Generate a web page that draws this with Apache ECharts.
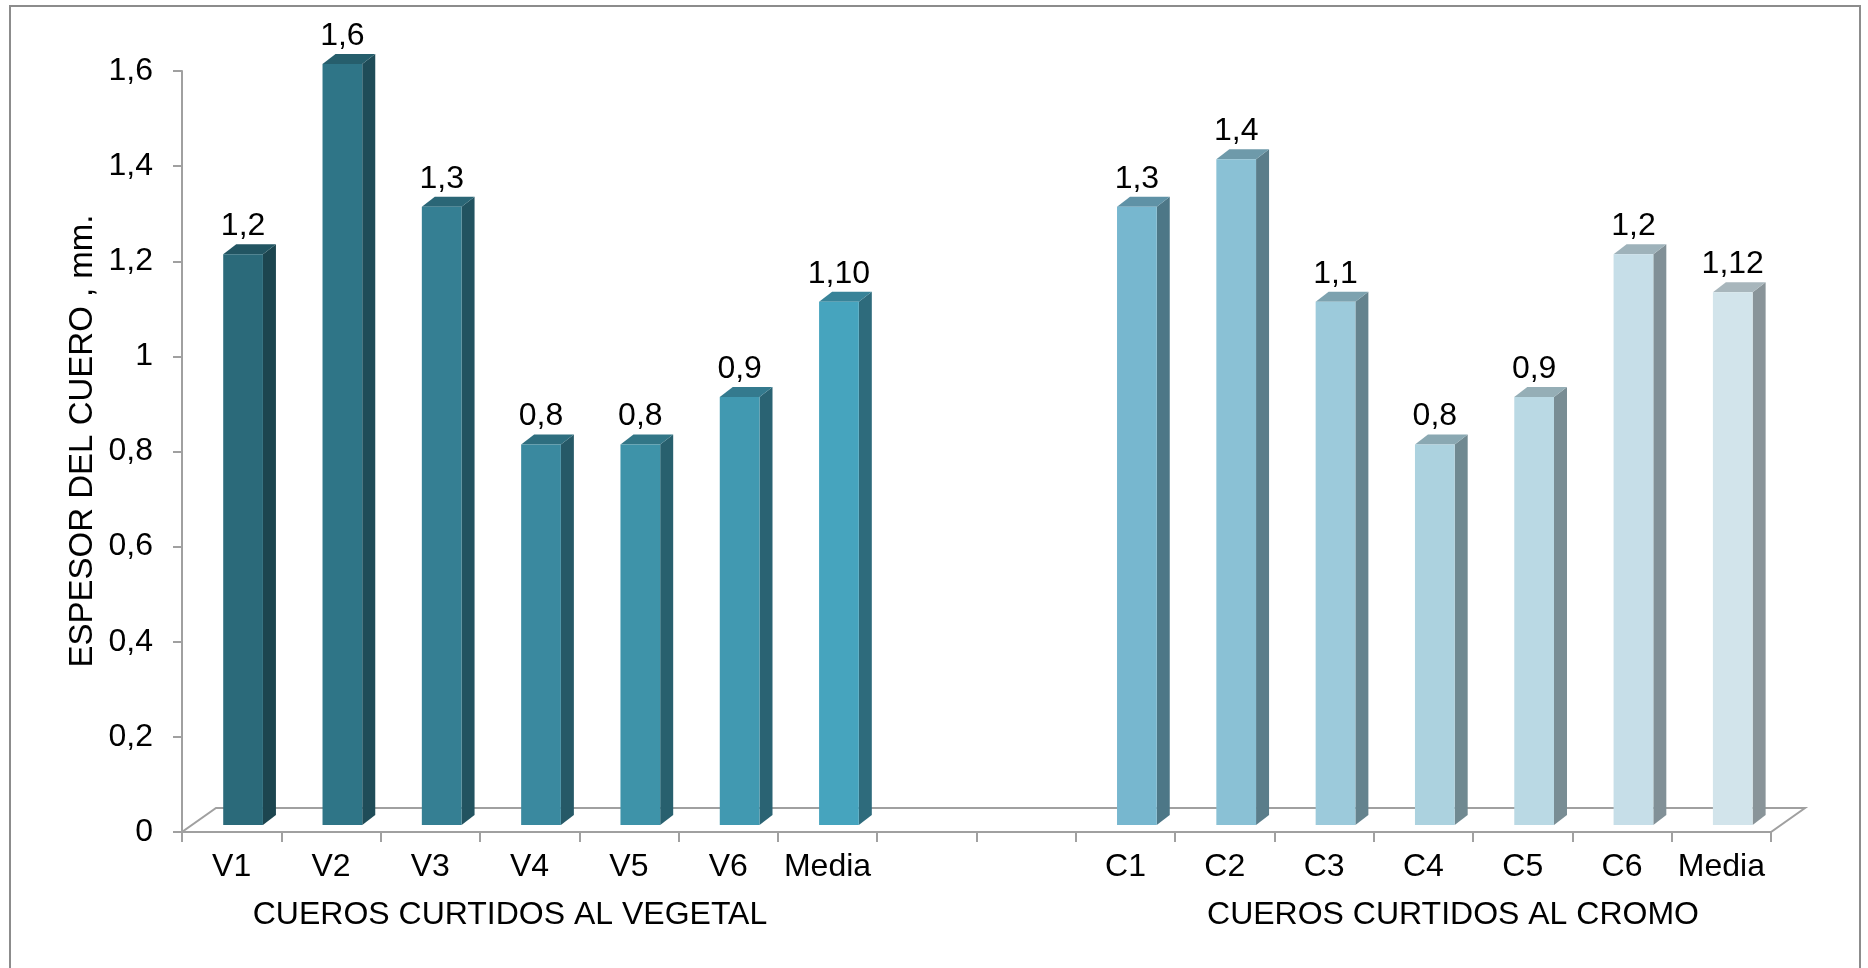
<!DOCTYPE html>
<html>
<head>
<meta charset="utf-8">
<title>Espesor del cuero</title>
<script src="https://cdn.jsdelivr.net/npm/echarts@6/dist/echarts.min.js"></script>
<style>
  html, body { margin: 0; padding: 0; background: #fff; }
  #chart { width: 1868px; height: 968px; }
</style>
</head>
<body>
<div id="chart"></div>
<script>
// Categories on the x axis (two empty slots separate the groups)
const categories = ['V1', 'V2', 'V3', 'V4', 'V5', 'V6', 'Media', '', '', 'C1', 'C2', 'C3', 'C4', 'C5', 'C6', 'Media'];
const vegetalIndex = [0, 1, 2, 3, 4, 5, 6];
const cromoIndex = [9, 10, 11, 12, 13, 14, 15];

// Espesor del cuero, mm.
const vegetalValues = [1.2, 1.6, 1.3, 0.8, 0.8, 0.9, 1.10];
const cromoValues = [1.3, 1.4, 1.1, 0.8, 0.9, 1.2, 1.12];
const vegetalLabels = ['1,2', '1,6', '1,3', '0,8', '0,8', '0,9', '1,10'];
const cromoLabels = ['1,3', '1,4', '1,1', '0,8', '0,9', '1,2', '1,12'];
const groupNames = ['CUEROS CURTIDOS AL VEGETAL', 'CUEROS CURTIDOS AL CROMO'];
const yTitle = 'ESPESOR DEL CUERO , mm.';

// Front face colours
const vegetalColors = ['#2b6a7a', '#2f7587', '#357f93', '#3a899f', '#3e93a9', '#4199b1', '#46a4be'];
const cromoColors = ['#77b7cf', '#8ac1d5', '#9ccadb', '#acd2df', '#bad9e4', '#c6dee8', '#d2e4eb'];

const FONT = '"Liberation Sans", Arial, sans-serif';
const FS = 32;

function shade(hex, f) {
  const n = parseInt(hex.slice(1), 16);
  const r = Math.round(((n >> 16) & 255) * f);
  const g = Math.round(((n >> 8) & 255) * f);
  const b = Math.round((n & 255) * f);
  return 'rgb(' + r + ',' + g + ',' + b + ')';
}

const barData = [];
vegetalIndex.forEach((idx, i) => barData.push([idx, vegetalValues[i]]));
cromoIndex.forEach((idx, i) => barData.push([idx, cromoValues[i]]));
const barLabels = vegetalLabels.concat(cromoLabels);
const barColors = vegetalColors.concat(cromoColors);

// 3D-ish bar: front face, side face, top face and value label
function renderBar(params, api) {
  const x = api.value(0);
  const v = api.value(1);
  const base = api.coord([x, 0]);
  const top = api.coord([x, v]);
  const band = api.size([1, 0])[0];
  const w = band * 0.4;
  const left = base[0] - band * 0.085;
  const lift = 7, dx = 13, dy = 10;
  const y0 = base[1] - lift;
  const y1 = top[1] - lift;
  const color = barColors[params.dataIndex];
  return {
    type: 'group',
    children: [
      {
        type: 'polygon',
        shape: { points: [[left + w, y1], [left + w + dx, y1 - dy], [left + w + dx, y0 - dy], [left + w, y0]] },
        style: { fill: shade(color, 0.65) }
      },
      {
        type: 'polygon',
        shape: { points: [[left, y1], [left + dx, y1 - dy], [left + w + dx, y1 - dy], [left + w, y1]] },
        style: { fill: shade(color, 0.8) }
      },
      {
        type: 'rect',
        shape: { x: left, y: y1, width: w, height: y0 - y1 },
        style: { fill: color }
      },
      {
        type: 'text',
        style: {
          text: barLabels[params.dataIndex],
          x: left + w / 2,
          y: y1 - 28,
          align: 'center',
          verticalAlign: 'middle',
          fontSize: FS,
          fontFamily: FONT,
          fill: '#000'
        }
      }
    ]
  };
}

// Floor of the 3D plot area
function renderFloor(params, api) {
  const band = api.size([1, 0])[0];
  const first = api.coord([0, 0]);
  const last = api.coord([categories.length - 1, 0]);
  const x0 = first[0] - band / 2;
  const x1 = last[0] + band / 2;
  const y = first[1];
  const dx = 34, dy = 24;
  return {
    type: 'polygon',
    shape: { points: [[x0, y], [x1, y], [x1 + dx, y - dy], [x0 + dx, y - dy]] },
    style: { fill: 'none', stroke: '#a0a0a0', lineWidth: 2 }
  };
}

const chart = echarts.init(document.getElementById('chart'));

const option = {
  animation: false,
  backgroundColor: '#fff',
  grid: {
    left: 182,
    right: 97,
    top: 71,
    bottom: 136,
    containLabel: false,
    outerBoundsMode: 'none'
  },
  xAxis: {
    type: 'category',
    data: categories,
    boundaryGap: true,
    axisLine: { lineStyle: { color: '#a0a0a0', width: 2 } },
    axisTick: { show: true, interval: 0, length: 10, lineStyle: { color: '#a0a0a0', width: 2 } },
    axisLabel: { interval: 0, fontSize: FS, fontFamily: FONT, color: '#000', margin: 19 }
  },
  yAxis: {
    type: 'value',
    min: 0,
    max: 1.6,
    interval: 0.2,
    axisLine: { show: true, lineStyle: { color: '#a0a0a0', width: 2 } },
    axisTick: { show: true, length: 9, lineStyle: { color: '#a0a0a0', width: 2 } },
    splitLine: { show: false },
    axisLabel: {
      fontSize: FS,
      fontFamily: FONT,
      color: '#000',
      margin: 29,
      formatter: function (val) {
        return String(Math.round(val * 10) / 10).replace('.', ',');
      }
    }
  },
  graphic: [
    {
      type: 'rect',
      shape: { x: 10, y: 6, width: 1850, height: 1000 },
      style: { fill: 'none', stroke: '#8c8c8c', lineWidth: 2 },
      silent: true
    },
    {
      type: 'text',
      x: 83,
      y: 441,
      rotation: Math.PI / 2,
      style: { text: yTitle, align: 'center', verticalAlign: 'middle', fontSize: 33, fontFamily: FONT, fill: '#000' }
    },
    {
      type: 'text',
      x: 510,
      y: 915,
      style: { text: groupNames[0], align: 'center', verticalAlign: 'middle', fontSize: FS, fontFamily: FONT, fill: '#000' }
    },
    {
      type: 'text',
      x: 1453,
      y: 915,
      style: { text: groupNames[1], align: 'center', verticalAlign: 'middle', fontSize: FS, fontFamily: FONT, fill: '#000' }
    }
  ],
  series: [
    {
      name: 'floor',
      type: 'custom',
      renderItem: renderFloor,
      data: [[0, 0]],
      silent: true,
      z: 1
    },
    {
      name: 'Espesor',
      type: 'custom',
      renderItem: renderBar,
      encode: { x: 0, y: 1 },
      data: barData,
      z: 2
    }
  ]
};

chart.setOption(option);
window.addEventListener('resize', () => chart.resize());
</script>
</body>
</html>
